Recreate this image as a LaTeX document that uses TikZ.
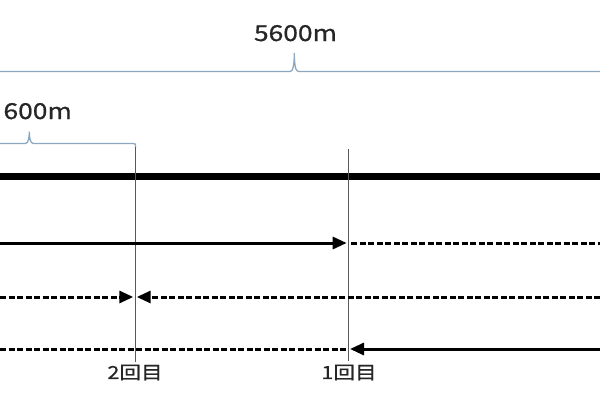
\documentclass[tikz,border=0pt]{standalone}
\usepackage{fontspec}
\setmainfont{Noto Sans CJK JP}[FakeStretch=1.2,FakeBold=0.8]
\usetikzlibrary{arrows.meta}
\definecolor{bracecol}{RGB}{140,168,192}

\begin{document}
\begin{tikzpicture}[x=1pt,y=-1pt,
    brace/.style={draw=bracecol,line width=1.3pt},
    guide/.style={draw=black!65,line width=1.6pt},
    track/.style={line width=7.5pt},
    run/.style={line width=3pt},
    back/.style={line width=3pt,dash pattern=on 6pt off 2.5pt},
    tip/.style={-{Triangle[length=14pt,width=12pt]}},
    dist/.style={font=\fontsize{22}{22}\selectfont,text=black!85,anchor=base,inner sep=0pt},
    lap/.style={font=\fontsize{18}{18}\selectfont,text=black!85,inner sep=0pt}]
      \useasboundingbox (0,0) rectangle (600,400);
      % distances
      \node[dist] (d5600) at (295.5,41) {5600m};
      \node[dist,anchor=base west] (d600) at (3.3,119) {600m};
      \coordinate (pa0) at (0,71.5);
      \coordinate (pa1) at (294.3,53);
      \coordinate (pa2) at (600,71.5);
      \draw[brace] (pa0) -- (290.3,71.5) .. controls (293.5,71.5) and (294.3,62) .. (pa1)
        .. controls (294.3,62) and (295.1,71.5) .. (298.3,71.5) -- (pa2);
      \coordinate (pb0) at (0,143.5);
      \coordinate (pb1) at (29.3,131.7);
      \coordinate (pb2) at (135.5,148);
      \draw[brace] (pb0) -- (25.3,143.5) .. controls (28.5,143.5) and (29.3,137) .. (pb1)
        .. controls (29.3,137) and (30.1,143.5) .. (33.3,143.5) -- (133,143.5)
        .. controls (135.5,143.5) .. (pb2);
      % track
      \coordinate (ts) at (0,176.5);
      \coordinate (te) at (600,176.5);
      \draw[track] (ts) -- (te);
      % laps
      \coordinate (l2top) at (135.5,147);
      \coordinate (l2bot) at (135.5,362);
      \coordinate (l1top) at (348.3,149);
      \coordinate (l1bot) at (348.3,361);
      \draw[guide] (l2top) -- (l2bot);
      \draw[guide] (l1top) -- (l1bot);
      \node[lap] (lap2) at (135,372.5) {2回目};
      \node[lap] (lap1) at (349,372.5) {1回目};
      % row 1
      \coordinate (a0) at (0,243);
      \coordinate (a1) at (346.7,243);
      \coordinate (a2) at (351,243);
      \coordinate (a3) at (600,243);
      \draw[run,tip] (a0) -- (a1);
      \draw[back] (a2) -- (a3);
      % row 2
      \coordinate (b0) at (0,297);
      \coordinate (b1) at (133.3,297);
      \coordinate (b2) at (136.7,297);
      \coordinate (b3) at (600,297);
      \draw[back,tip] (b0) -- (b1);
      \draw[back,tip] (b3) -- (b2);
      % row 3
      \coordinate (c0) at (0,349);
      \coordinate (c1) at (346.7,349);
      \coordinate (c2) at (350,349);
      \coordinate (c3) at (600,349);
      \draw[back] (c0) -- (c1);
      \draw[run,tip] (c3) -- (c2);
\end{tikzpicture}
\end{document}
